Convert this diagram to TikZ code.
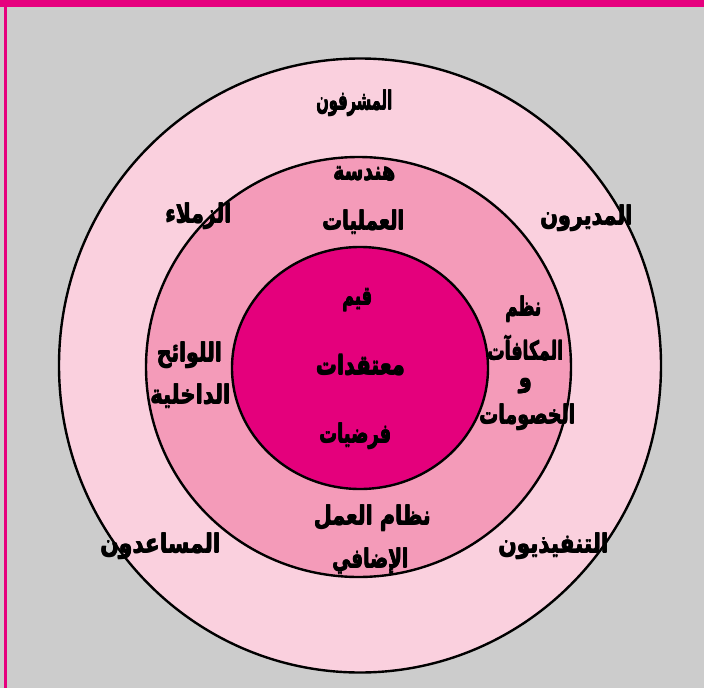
\documentclass[tikz,border=0pt]{standalone}
\usepackage{fontspec}
\usepackage{graphicx}
\newfontfamily\arabicfont[Script=Arabic]{DejaVu Sans}
\TeXXeTstate=1
\definecolor{bggray}{HTML}{CCCCCC}
\definecolor{magband}{HTML}{E6007E}
\definecolor{ringout}{HTML}{FAD0DE}
\definecolor{ringmid}{HTML}{F49BB9}
\definecolor{ringin}{HTML}{E4007C}
\tikzset{
  ring/.style={draw=black, line width=2.4pt},
  lbl/.style={font=\arabicfont\bfseries\fontsize{16}{19}\selectfont, text=black, inner sep=0pt}
}
\newbox\arwbox
\newcommand{\arw}[2]{%
  \setbox\arwbox\hbox{\setbox0\hbox{\beginR #2\endR}%
    \rlap{\copy0}\rlap{\kern0.6pt\copy0}\rlap{\kern0.3pt\raise0.4pt\copy0}%
    \rlap{\kern0.3pt\lower0.4pt\copy0}\hbox to \wd0{}}%
  \pgfmathsetmacro\sxval{#1/\the\wd\arwbox}%
  \scalebox{\sxval}[1.62]{\copy\arwbox}}
\begin{document}
\begin{tikzpicture}[x=1pt,y=-1pt]
\useasboundingbox (0,0) rectangle (704,688);
\fill[bggray] (0,0) rectangle (704,688);
\fill[magband] (0,0) rectangle (704,7);
\fill[magband] (4,0) rectangle (7,688);
\draw[ring, fill=ringout] (360,365.5) ellipse[x radius=301pt, y radius=307pt];
\draw[ring, fill=ringmid] (358.5,367) ellipse[x radius=212.5pt, y radius=210pt];
\draw[ring, fill=ringin] (360,368) ellipse[x radius=128pt, y radius=121pt];
% outer ring
\node[lbl] (t1) at (354,103) {\arw{76}{المشرفون}};
\node[lbl] (t2) at (198,216) {\arw{66}{الزملاء}};
\node[lbl] (t3) at (586,218) {\arw{92}{المديرون}};
\node[lbl] (t4) at (160,546) {\arw{120}{المساعدون}};
\node[lbl] (t5) at (553,546) {\arw{110}{التنفيذيون}};
% middle ring
\node[lbl] (m1) at (364,174) {\arw{62}{هندسة}};
\node[lbl] (m2) at (363,222) {\arw{82}{العمليات}};
\node[lbl] (m3) at (523,309) {\arw{36}{نظم}};
\node[lbl] (m4) at (525,348) {\arw{76}{المكافآت}};
\node[lbl] (m5) at (525,386) {\arw{13}{و}};
\node[lbl] (m6) at (527,417) {\arw{96}{الخصومات}};
\node[lbl] (m7) at (189,355) {\arw{65}{اللوائح}};
\node[lbl] (m8) at (190,396) {\arw{80}{الداخلية}};
\node[lbl] (m9) at (372,518) {\arw{117}{\beginR نظام العمل\endR}};
\node[lbl] (m10) at (370,561) {\arw{76}{الإضافي}};
% inner
\node[lbl] (i1) at (357,300) {\arw{30}{قيم}};
\node[lbl] (i2) at (360,365) {\arw{89}{معتقدات}};
\node[lbl] (i3) at (355,436) {\arw{72}{فرضيات}};
\end{tikzpicture}
\end{document}
